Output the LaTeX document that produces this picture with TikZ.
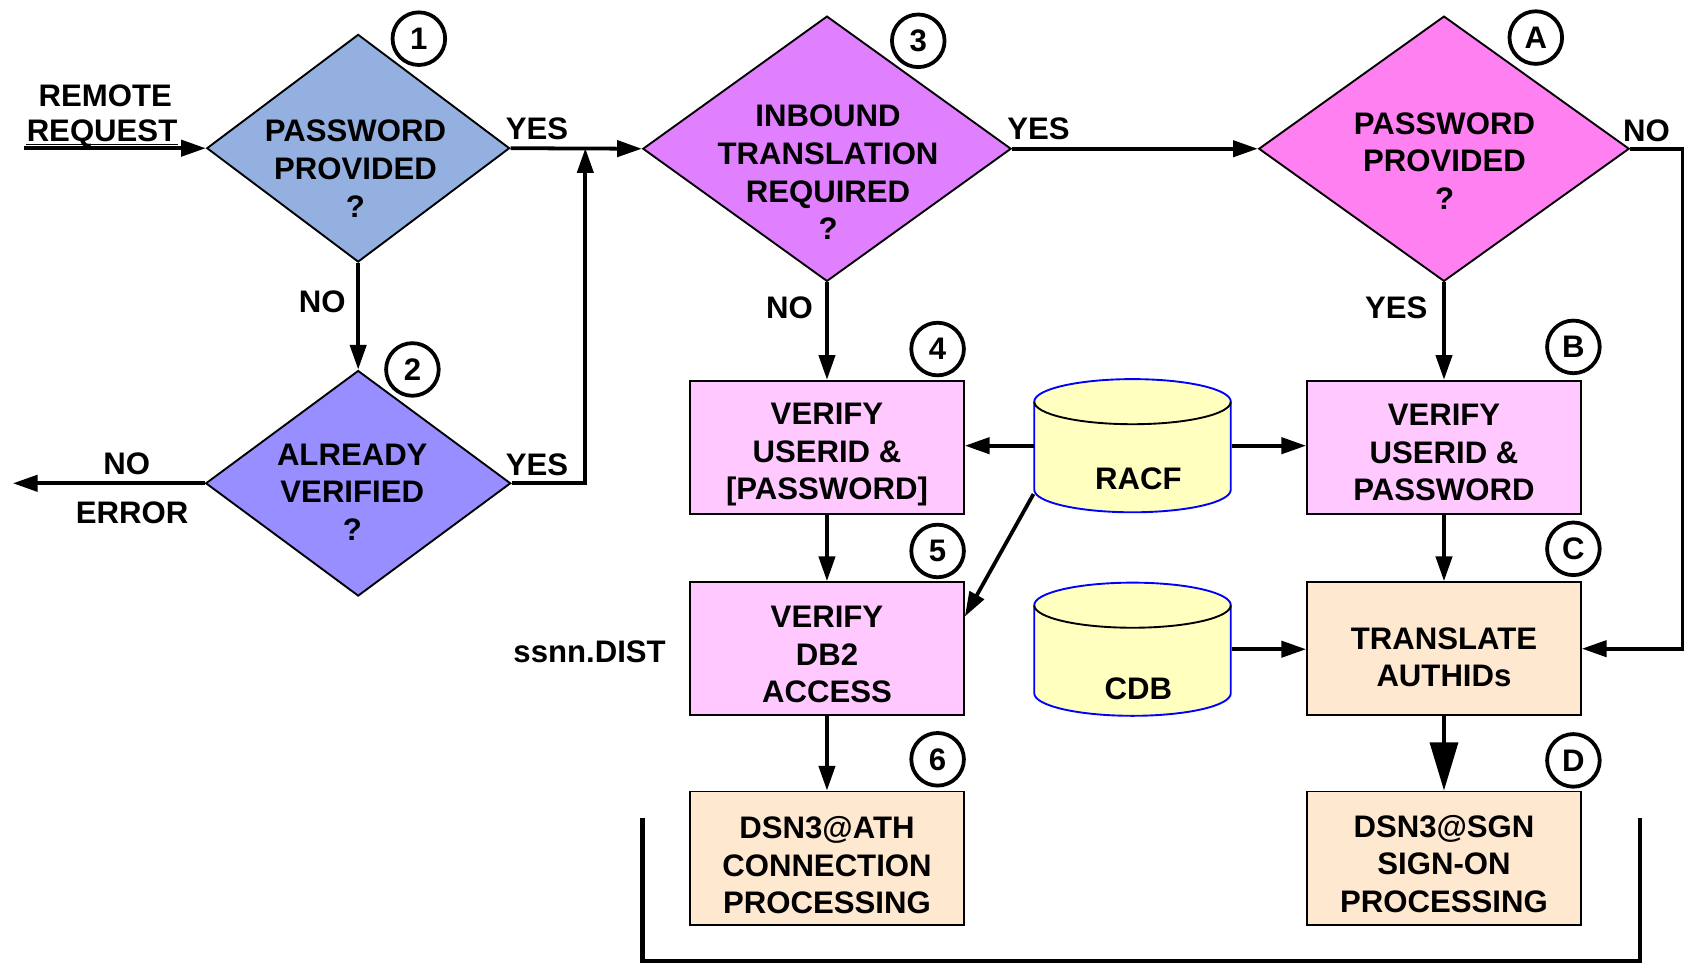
\documentclass[tikz,border=0pt]{standalone}
\usepackage{fontspec}
\setmainfont{Liberation Sans}
\usetikzlibrary{shapes.geometric,arrows.meta}

\definecolor{pwdblue}{RGB}{148,176,224}
\definecolor{verviolet}{RGB}{152,142,255}
\definecolor{inbmauve}{RGB}{224,128,255}
\definecolor{pwdpink}{RGB}{255,128,240}
\definecolor{boxpink}{RGB}{255,200,255}
\definecolor{boxpeach}{RGB}{255,232,208}
\definecolor{drumfill}{RGB}{255,255,192}

\begin{document}
\begin{tikzpicture}[font=\fontsize{8.25}{9.96}\selectfont\bfseries,
	decision/.style={draw,shape=diamond,inner sep=0pt,line width=0.5pt},
	procbox/.style={draw,minimum width=2.55cm,minimum height=1.24cm,inner ysep=0pt,align=center,line width=0.5pt},
	numcirc/.style={draw,circle,fill=white,line width=1pt,inner sep=0pt,minimum size=0.49cm},
	arr/.style={line width=1pt,-{Triangle[length=2.3mm,width=1.5mm]}},
	drum/.style={draw=blue,fill=drumfill,line width=0.5pt}]
	\useasboundingbox (0,0) rectangle (15.68,-8.98);

	\node[decision,fill=pwdblue,minimum width=2.82cm,minimum height=2.12cm] (PasswordProvided) at (3.335,-1.38) {};
	\node[decision,fill=verviolet,minimum width=2.84cm,minimum height=2.10cm] (AlreadyVerified) at (3.335,-4.50) {};
	\node[decision,fill=inbmauve,minimum width=3.43cm,minimum height=2.47cm] (InboundTranslation) at (7.70,-1.385) {};
	\node[decision,fill=pwdpink,minimum width=3.45cm,minimum height=2.47cm] (PasswordProvidedA) at (13.445,-1.385) {};

	\node[align=center] (PasswordProvidedText) at (3.31,-1.57) {PASSWORD\\PROVIDED\\?};
	\node[align=center] (AlreadyVerifiedText) at (3.28,-4.58) {ALREADY\\VERIFIED\\?};
	\node[align=center] (InboundTranslationText) at (7.71,-1.605) {INBOUND\\TRANSLATION\\REQUIRED\\?};
	\node[align=center] (PasswordProvidedAText) at (13.45,-1.50) {PASSWORD\\PROVIDED\\?};

	% the rule at the start lowers the text a little in its box
	\node[procbox,fill=boxpink] (VerifyUserid) at (7.70,-4.165) {\rule{0pt}{3.4mm}VERIFY\\USERID \&\\{[PASSWORD]}};
	\node[procbox,fill=boxpink] (VerifyUseridB) at (13.445,-4.165) {\rule{0pt}{3.0mm}VERIFY\\USERID \&\\PASSWORD};
	\node[procbox,fill=boxpink] (VerifyAccess) at (7.70,-6.04) {\rule{0pt}{3.1mm}VERIFY\\DB2\\ACCESS};
	\node[procbox,fill=boxpeach] (TranslateAuthids) at (13.445,-6.04) {\rule{0pt}{3.6mm}TRANSLATE\\AUTHIDs};
	\node[procbox,fill=boxpeach] (ConnectionProc) at (7.70,-7.99) {\rule{0pt}{3.4mm}DSN3@ATH\\CONNECTION\\PROCESSING};
	\node[procbox,fill=boxpeach] (SignonProc) at (13.445,-7.99) {\rule{0pt}{3.1mm}DSN3@SGN\\SIGN-ON\\PROCESSING};

	% the two data bases
	\node[minimum width=1.83cm,minimum height=1.24cm,inner sep=0pt] (Racf) at (10.545,-4.15) {};
	\begin{scope}[shift={(Racf.center)}]
		\draw[drum] (-0.915,0.41) -- (-0.915,-0.41) arc[start angle=180,end angle=360,x radius=0.915,y radius=0.21]
			-- (0.915,0.41) arc[start angle=0,end angle=180,x radius=0.915,y radius=0.21] -- cycle;
		\draw[line width=0.5pt] (-0.915,0.41) arc[start angle=180,end angle=360,x radius=0.915,y radius=0.21];
	\end{scope}
	\node (RacfText) at (10.60,-4.46) {RACF};

	\node[minimum width=1.83cm,minimum height=1.24cm,inner sep=0pt] (Cdb) at (10.545,-6.045) {};
	\begin{scope}[shift={(Cdb.center)}]
		\draw[drum] (-0.915,0.41) -- (-0.915,-0.41) arc[start angle=180,end angle=360,x radius=0.915,y radius=0.21]
			-- (0.915,0.41) arc[start angle=0,end angle=180,x radius=0.915,y radius=0.21] -- cycle;
		\draw[line width=0.5pt] (-0.915,0.41) arc[start angle=180,end angle=360,x radius=0.915,y radius=0.21];
	\end{scope}
	\node (CdbText) at (10.60,-6.41) {CDB};

	\node[anchor=base] (RemoteText) at (0.98,-0.99) {REMOTE};
	\node[inner sep=0pt,anchor=base] (RequestText) at (0.95,-1.32) {REQUEST};
	\draw[line width=0.5pt] ([yshift=-0.25mm]RequestText.base west) -- ([yshift=-0.25mm]RequestText.base east);
	\node (YesOne) at (5.00,-1.20) {YES};
	\node (NoOne) at (3.00,-2.81) {NO};
	\node (YesTwo) at (5.00,-4.33) {YES};
	\node (NoTwo) at (1.18,-4.32) {NO};
	\node (ErrorText) at (1.23,-4.77) {ERROR};
	\node (YesThree) at (9.67,-1.20) {YES};
	\node (NoThree) at (7.35,-2.87) {NO};
	\node (NoA) at (15.33,-1.22) {NO};
	\node (YesA) at (13.00,-2.87) {YES};
	\node (DistName) at (5.49,-6.07) {ssnn.DIST};

	\coordinate (ReqStart) at (0.22,-1.38);
	\coordinate (ErrEnd) at (0.12,-4.50);
	\coordinate (YesJoin) at (5.45,-1.38);

	\draw[arr] (ReqStart) -- (PasswordProvided.west);
	\draw[arr] (PasswordProvided.east) -- (InboundTranslation.west);
	\draw[arr] (PasswordProvided.south) -- (AlreadyVerified.north);
	\draw[arr] (AlreadyVerified.west) -- (ErrEnd);
	\draw[arr] (AlreadyVerified.east) -| (YesJoin);
	\draw[arr] (InboundTranslation.east) -- (PasswordProvidedA.west);
	\draw[arr] (InboundTranslation.south) -- (VerifyUserid.north);
	\draw[arr] (PasswordProvidedA.south) -- (VerifyUseridB.north);
	\draw[arr] (PasswordProvidedA.east) -- ++(0.49,0) |- (TranslateAuthids.east);
	\draw[arr] (VerifyUserid) -- (VerifyAccess);
	\draw[arr] (VerifyAccess) -- (ConnectionProc);
	\draw[arr] (VerifyUseridB) -- (TranslateAuthids);
	\draw[line width=1pt,-{Triangle[length=4.5mm,width=2.6mm]}] (TranslateAuthids) -- (SignonProc);
	\draw[arr] (Racf.west) -- (Racf.west -| VerifyUserid.east);
	\draw[arr] (Racf.east) -- (Racf.east -| VerifyUseridB.west);
	\draw[arr] ([yshift=-4.5mm]Racf.west) -- ([yshift=-3.3mm]VerifyAccess.north east);
	\draw[arr] (Cdb.east) -- (Cdb.east -| TranslateAuthids.west);

	\draw[line width=1.2pt] (5.98,-7.62) -- (5.98,-8.95) -- (15.27,-8.95) -- (15.27,-7.62);

	\node[numcirc] (StepOne) at (3.90,-0.36) {1};
	\node[numcirc] (StepTwo) at (3.84,-3.44) {2};
	\node[numcirc] (StepThree) at (8.55,-0.38) {3};
	\node[numcirc] (StepFour) at (8.73,-3.25) {4};
	\node[numcirc] (StepFive) at (8.73,-5.13) {5};
	\node[numcirc] (StepSix) at (8.73,-7.07) {6};
	\node[numcirc] (StepA) at (14.30,-0.35) {A};
	\node[numcirc] (StepB) at (14.65,-3.23) {B};
	\node[numcirc] (StepC) at (14.65,-5.11) {C};
	\node[numcirc] (StepD) at (14.65,-7.08) {D};
\end{tikzpicture}
\end{document}
